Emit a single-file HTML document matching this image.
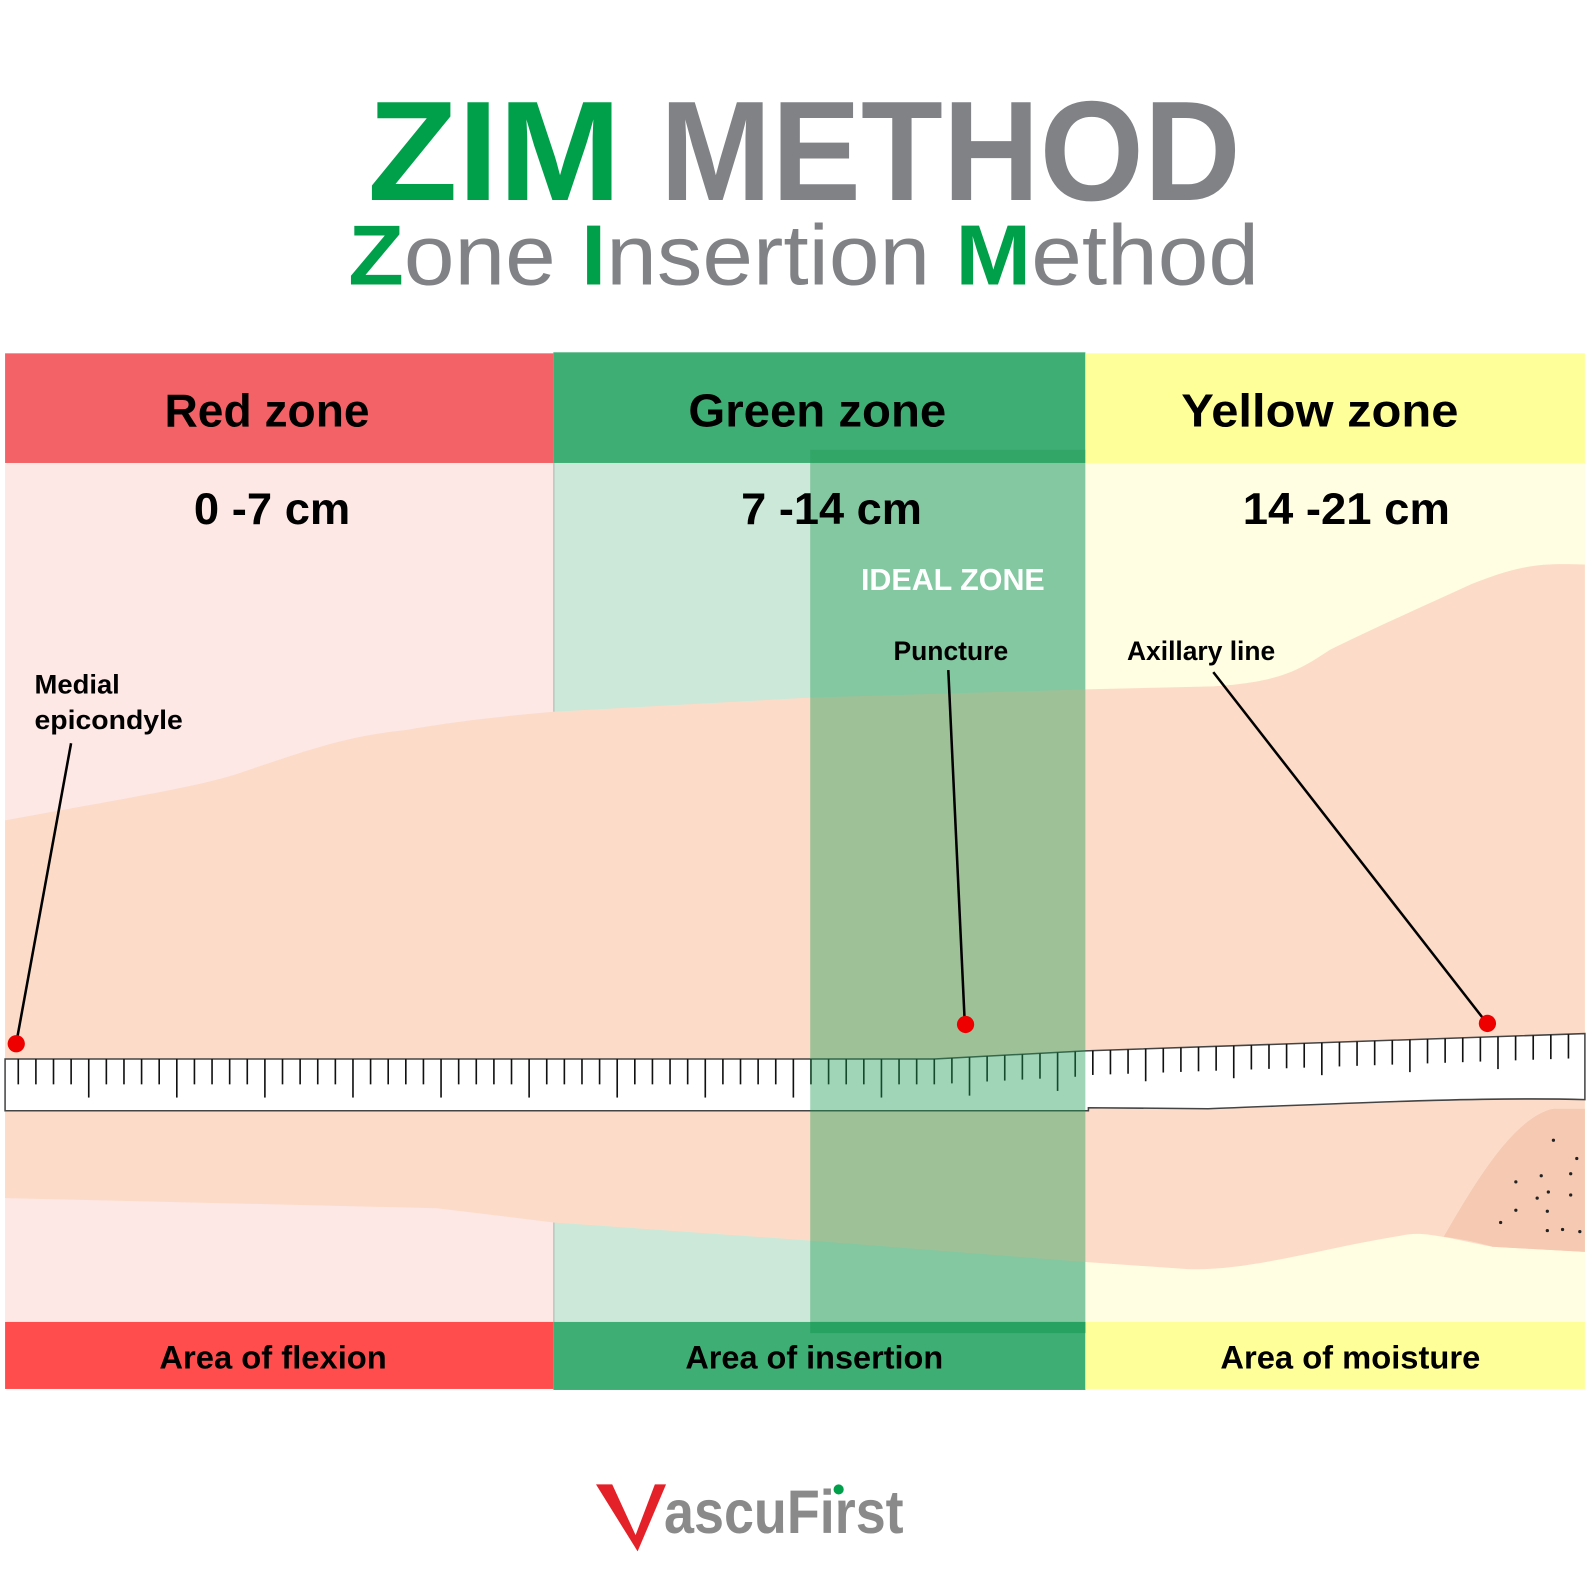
<!DOCTYPE html>
<html><head><meta charset="utf-8">
<style>
html,body{margin:0;padding:0;background:#fff;}
svg{display:block;}
text{font-family:"Liberation Sans",sans-serif;}
</style></head>
<body>
<svg id="s" width="1592" height="1591" viewBox="0 0 1568 1567" preserveAspectRatio="none" xmlns="http://www.w3.org/2000/svg">
<rect width="1568" height="1567" fill="#fff"/>
<!-- Title -->
<text x="362" y="197" font-size="140" font-weight="bold" fill="#00a04a" textLength="250" lengthAdjust="spacingAndGlyphs">ZIM</text>
<text x="650" y="197" font-size="140" font-weight="bold" fill="#808285" textLength="572" lengthAdjust="spacingAndGlyphs">METHOD</text>
<text x="343" y="280" font-size="84" fill="#808285" textLength="897" lengthAdjust="spacingAndGlyphs"><tspan fill="#00a04a" font-weight="bold">Z</tspan>one <tspan fill="#00a04a" font-weight="bold">I</tspan>nsertion <tspan fill="#00a04a" font-weight="bold">M</tspan>ethod</text>

<!-- header bars -->
<rect x="5" y="348" width="540" height="108" fill="#f26266"/>
<rect x="545" y="347" width="524" height="109" fill="#3fae74"/>
<rect x="1069" y="348" width="492" height="108" fill="#ffff99"/>
<!-- body -->
<rect x="5" y="456" width="540" height="846" fill="#fde8e6"/>
<rect x="545" y="456" width="524" height="846" fill="#cce8d8"/>
<rect x="1069" y="456" width="492" height="846" fill="#fffee2"/>
<line x1="545.5" y1="456" x2="545.5" y2="1302" stroke="#b8c8c0" stroke-width="1.5"/>

<!-- skin -->
<path d="M5,808 C100,790 200,775 240,760 C300,740 340,725 400,719 C450,710 500,705 545,701 L800,687 L1069,679 L1195,676 C1260,672 1280,660 1310,640 C1350,620 1400,598 1450,575 C1500,555 1520,555 1561,556 L1561,1233 L1470,1228 C1420,1218 1400,1212 1380,1217 C1300,1230 1230,1252 1170,1250 L1069,1243 L800,1222 L545,1204 L430,1190 L5,1180 Z" fill="#fcdcc8"/>
<!-- armpit -->
<path d="M1422,1218 C1450,1170 1490,1100 1530,1092 L1561,1092 L1561,1233 L1470,1228 C1450,1222 1435,1220 1422,1218 Z" fill="#f5c9b2"/>
<g fill="#222" id="dots"></g>

<!-- ruler -->
<path d="M5,1043 L920,1043 L1069,1035 L1561,1018 L1561,1083 C1450,1080 1300,1088 1190,1092 L1072,1091 L1072,1094 L5,1094 Z" fill="#fff" stroke="#444" stroke-width="1.5"/>
<g id="ticks" stroke="#111" stroke-width="1.6"></g>

<!-- ideal zone overlay -->
<rect x="798" y="443" width="271" height="869" fill="#1f9a55" fill-opacity="0.42"/>

<!-- bottom bars -->
<rect x="5" y="1302" width="540" height="66" fill="#ff4c4c"/>
<rect x="545" y="1302" width="524" height="67" fill="#3fae74"/>
<rect x="1069" y="1302" width="492" height="66" fill="#ffff99"/>
<rect x="798" y="1302" width="271" height="11" fill="#27a260"/>

<!-- headings -->
<g font-weight="bold" fill="#000" text-anchor="middle">
<text x="263" y="420" font-size="46" textLength="202" lengthAdjust="spacingAndGlyphs">Red zone</text>
<text x="805" y="420" font-size="46" textLength="254" lengthAdjust="spacingAndGlyphs">Green zone</text>
<text x="1300" y="420" font-size="46" textLength="273" lengthAdjust="spacingAndGlyphs">Yellow zone</text>
<text x="268" y="516" font-size="44" textLength="154" lengthAdjust="spacingAndGlyphs">0 -7 cm</text>
<text x="819" y="516" font-size="44" textLength="178" lengthAdjust="spacingAndGlyphs">7 -14 cm</text>
<text x="1326" y="516" font-size="44" textLength="204" lengthAdjust="spacingAndGlyphs">14 -21 cm</text>
<text x="269" y="1348" font-size="32" textLength="224" lengthAdjust="spacingAndGlyphs">Area of flexion</text>
<text x="802" y="1348" font-size="32" textLength="254" lengthAdjust="spacingAndGlyphs">Area of insertion</text>
<text x="1330" y="1348" font-size="32" textLength="256" lengthAdjust="spacingAndGlyphs">Area of moisture</text>
</g>
<text x="848" y="581" font-size="30" font-weight="bold" fill="#fff" textLength="181" lengthAdjust="spacingAndGlyphs">IDEAL ZONE</text>
<g font-size="26" font-weight="bold" fill="#000">
<text x="880" y="650" textLength="113" lengthAdjust="spacingAndGlyphs">Puncture</text>
<text x="1110" y="650" textLength="146" lengthAdjust="spacingAndGlyphs">Axillary line</text>
<text x="34" y="683" textLength="84" lengthAdjust="spacingAndGlyphs">Medial</text>
<text x="34" y="718" textLength="146" lengthAdjust="spacingAndGlyphs">epicondyle</text>
</g>
<!-- pointers -->
<g stroke="#000" stroke-width="2.5">
<line x1="70" y1="732" x2="17" y2="1022"/>
<line x1="934" y1="660" x2="950" y2="1003"/>
<line x1="1195" y1="662" x2="1460" y2="1002"/>
</g>
<g fill="#ee0000">
<circle cx="16" cy="1028" r="8.5"/>
<circle cx="951" cy="1009" r="8.5"/>
<circle cx="1465" cy="1008" r="8.5"/>
</g>

<!-- logo -->
<path d="M587,1462 L603,1462 L626,1512 L645,1462 L656,1462 L628,1528 Z" fill="#e42128"/>
<text x="654" y="1510" font-size="60" font-weight="bold" fill="#8a8a8a" textLength="236" lengthAdjust="spacingAndGlyphs">ascuFirst</text>
<circle cx="826" cy="1467" r="5" fill="#00a04a"/>
</svg>
<script>
var ns="http://www.w3.org/2000/svg";
var g=document.getElementById("ticks");
function topY(x){ if(x<=920) return 1043; if(x<=1069) return 1043-(x-920)*8/149; return 1035-(x-1069)*17/492; }
for(var i=0;i<90;i++){
  var x=18+i*17.35; if(x>1558) break;
  var t=topY(x);
  var len=(i%5==4)?38:(x>1069?24:25);
  if(x>1069 && i%5==4) len=32;
  var l=document.createElementNS(ns,"line");
  l.setAttribute("x1",x);l.setAttribute("x2",x);
  l.setAttribute("y1",t);l.setAttribute("y2",t+len);
  g.appendChild(l);
}
var d=document.getElementById("dots");
[[1530,1123],[1553,1141],[1518,1158],[1547,1156],[1493,1164],[1525,1174],[1514,1180],[1547,1177],[1493,1192],[1524,1193],[1478,1204],[1524,1212],[1539,1211],[1556,1213]].forEach(function(p){
  var c=document.createElementNS(ns,"circle");c.setAttribute("cx",p[0]);c.setAttribute("cy",p[1]);c.setAttribute("r",1.6);d.appendChild(c);
});
</script>
</body></html>
